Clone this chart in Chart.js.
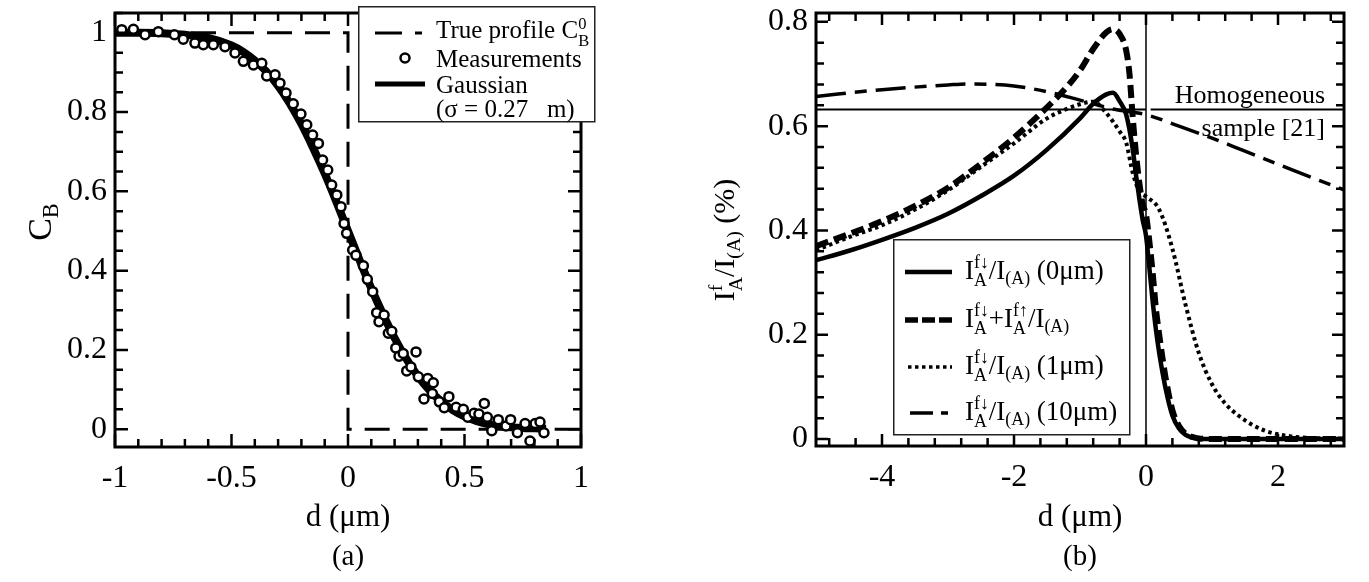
<!DOCTYPE html>
<html>
<head>
<meta charset="utf-8">
<script src="https://cdn.jsdelivr.net/npm/chart.js@4.4.0/dist/chart.umd.min.js"></script>
<style>
  body { margin: 0; background: #fff; width: 1369px; height: 582px; position: relative; overflow: hidden;
         font-family: 'Liberation Serif', 'Times New Roman', serif; color: #000; }
  canvas { position: absolute; top: 0; }
  #c1 { left: 0; }
  #c2 { left: 660px; }
  #ov { position: absolute; left: 0; top: 0; pointer-events: none; }
  .txt { position: absolute; white-space: nowrap; line-height: 1; transform: translateY(-50%); }
  .ctr { transform: translate(-50%, -50%); }
  .rot { transform: translate(-50%, -50%) rotate(-90deg); }
  sub { font-size: 0.66em; vertical-align: -0.3em; line-height: 0; }
  .st { display: inline-block; font-size: 0.66em; line-height: 1.0; vertical-align: -0.4em; text-align: left; }
  .st span { display: block; }
</style>
</head>
<body>
<canvas id="c1" width="660" height="582"></canvas>
<canvas id="c2" width="709" height="582"></canvas>

<svg id="ov" width="1369" height="582">
  <!-- legend (a) -->
  <rect x="358.75" y="6.75" width="236" height="115" fill="#fff" stroke="#222" stroke-width="1.5"/>
  <line x1="375" x2="402" y1="33" y2="33" stroke="#000" stroke-width="3"/>
  <line x1="415" x2="422" y1="33" y2="33" stroke="#000" stroke-width="3"/>
  <circle cx="405" cy="58" r="4.5" fill="#fff" stroke="#000" stroke-width="2.5"/>
  <line x1="375" x2="425" y1="84" y2="84" stroke="#000" stroke-width="5"/>
  <!-- legend (b) -->
  <rect x="893.75" y="239.75" width="236" height="195" fill="#fff" stroke="#222" stroke-width="1.5"/>
  <line x1="905" x2="952" y1="272" y2="272" stroke="#000" stroke-width="4.5"/>
  <line x1="905" x2="952" y1="320" y2="320" stroke="#000" stroke-width="5.5" stroke-dasharray="13 4"/>
  <line x1="908" x2="952" y1="367" y2="367" stroke="#000" stroke-width="3.5" stroke-dasharray="3.5 3.5"/>
  <line x1="910" x2="948" y1="413" y2="413" stroke="#000" stroke-width="3.5" stroke-dasharray="23 8 7 100"/>
</svg>

<div class="txt" style="left:436px;top:32px;font-size:25px">True profile C<span class="st"><span>0</span><span>B</span></span></div>
<div class="txt" style="left:436px;top:58px;font-size:25px">Measurements</div>
<div class="txt" style="left:436px;top:84px;font-size:25px">Gaussian</div>
<div class="txt" style="left:436px;top:108px;font-size:25px">(σ = 0.27 &nbsp;&nbsp;m)</div>

<div class="txt" style="left:965px;top:272px;font-size:27px">I<span class="st"><span>f↓</span><span>A</span></span>/I<sub>(A)</sub> (0μm)</div>
<div class="txt" style="left:965px;top:320px;font-size:27px">I<span class="st"><span>f↓</span><span>A</span></span>+I<span class="st"><span>f↑</span><span>A</span></span>/I<sub>(A)</sub></div>
<div class="txt" style="left:965px;top:367px;font-size:27px">I<span class="st"><span>f↓</span><span>A</span></span>/I<sub>(A)</sub> (1μm)</div>
<div class="txt" style="left:965px;top:413px;font-size:27px">I<span class="st"><span>f↓</span><span>A</span></span>/I<sub>(A)</sub> (10μm)</div>

<div class="txt" style="right:44px;top:95px;font-size:26px">Homogeneous</div>
<div class="txt" style="right:44px;top:128px;font-size:26px">sample [21]</div>

<div class="txt rot" style="left:40px;top:222px;font-size:34px">C<sub>B</sub></div>
<div class="txt rot" style="left:726px;top:240px;font-size:30px">I<span class="st"><span>f</span><span>A</span></span>/I<sub>(A)</sub> (%)</div>

<div class="txt ctr" style="left:348px;top:555px;font-size:29px">(a)</div>
<div class="txt ctr" style="left:1080px;top:555px;font-size:29px">(b)</div>

<script>
// ---- panel (a) data ----
const gaussX = [-1, -0.9, -0.8, -0.7, -0.6, -0.5, -0.45, -0.4, -0.35, -0.3, -0.25, -0.2, -0.15, -0.1, -0.05,
                0, 0.05, 0.1, 0.15, 0.2, 0.25, 0.3, 0.35, 0.4, 0.45, 0.5, 0.55, 0.6, 0.65, 0.7, 0.75, 0.8, 0.85];
const gaussY = [1.0, 1.0, 0.999, 0.995, 0.987, 0.968, 0.952, 0.93, 0.902, 0.866, 0.822, 0.77, 0.71, 0.645, 0.574,
                0.5, 0.426, 0.355, 0.29, 0.23, 0.178, 0.134, 0.098, 0.07, 0.048, 0.032, 0.021, 0.013, 0.008, 0.005, 0.003, 0.002, 0.001];

const measX = [-0.971, -0.921, -0.871, -0.814, -0.745, -0.707, -0.657, -0.621, -0.578, -0.528, -0.485, -0.449,
               -0.406, -0.370, -0.349, -0.313, -0.292, -0.266, -0.235, -0.202, -0.177, -0.152, -0.127, -0.109,
               -0.087, -0.070, -0.048, -0.030, -0.017, -0.006, 0.020, 0.034, 0.066, 0.083, 0.106, 0.123, 0.133,
               0.155, 0.173, 0.188, 0.205, 0.219, 0.237, 0.292, 0.252, 0.270, 0.302, 0.342, 0.366, 0.326, 0.362,
               0.392, 0.413, 0.433, 0.464, 0.495, 0.514, 0.541, 0.562, 0.585, 0.598, 0.617, 0.645, 0.678, 0.698,
               0.727, 0.760, 0.781, 0.803, 0.824, 0.841];
const measY = [1.008, 1.009, 0.995, 1.003, 0.995, 0.984, 0.974, 0.970, 0.970, 0.965, 0.949, 0.928,
               0.919, 0.923, 0.891, 0.894, 0.873, 0.848, 0.821, 0.795, 0.768, 0.742, 0.721, 0.679,
               0.654, 0.616, 0.591, 0.561, 0.519, 0.494, 0.452, 0.439, 0.412, 0.378, 0.347, 0.294, 0.271,
               0.288, 0.242, 0.247, 0.205, 0.184, 0.191, 0.195, 0.147, 0.157, 0.132, 0.128, 0.117, 0.076, 0.090,
               0.069, 0.054, 0.082, 0.055, 0.050, 0.030, 0.040, 0.038, 0.065, 0.030, -0.004, 0.024, 0.008, 0.024,
               -0.009, 0.014, -0.030, 0.014, 0.018, -0.009];

const trueX = [-1, 0, 0, 1];
const trueY = [1, 1, 0, 0];

const ticksAX = [-1, -0.5, 0, 0.5, 1];
const ticksAY = [0, 0.2, 0.4, 0.6, 0.8, 1];

// ---- panel (b) data ----
const solidX = [-5, -4.5, -4, -3.5, -3, -2.5, -2, -1.5, -1, -0.8, -0.6, -0.5, -0.4, -0.3, -0.2, -0.15, -0.1, -0.05,
                0, 0.05, 0.1, 0.15, 0.2, 0.3, 0.4, 0.5, 0.6, 0.7, 0.8, 1, 1.5, 2, 2.5, 3];
const solidY = [0.343, 0.361, 0.382, 0.405, 0.432, 0.466, 0.505, 0.555, 0.615, 0.643, 0.661, 0.664, 0.648, 0.622, 0.555, 0.505, 0.46, 0.42,
                0.39, 0.33, 0.265, 0.21, 0.165, 0.095, 0.045, 0.02, 0.008, 0.003, 0.001, 0, 0, 0, 0, 0];

const sumX = [-5, -4.5, -4, -3.5, -3, -2.5, -2, -1.5, -1.2, -1, -0.8, -0.6, -0.5, -0.4, -0.3, -0.25, -0.2, -0.15, -0.1, -0.05,
              0, 0.05, 0.1, 0.15, 0.2, 0.25, 0.3, 0.4, 0.5, 0.6, 0.7, 0.8, 1, 1.5, 2, 2.5, 3];
const sumY = [0.370, 0.393, 0.418, 0.447, 0.482, 0.528, 0.578, 0.636, 0.675, 0.707, 0.748, 0.780, 0.786, 0.777, 0.745, 0.70, 0.615, 0.545, 0.49, 0.45,
              0.43, 0.38, 0.32, 0.25, 0.2, 0.155, 0.115, 0.055, 0.025, 0.01, 0.004, 0.001, 0, 0, 0, 0, 0];

const dotX = [-5, -4.5, -4, -3.5, -3, -2.5, -2, -1.5, -1.2, -1, -0.8, -0.6, -0.4, -0.3, -0.2, -0.1, 0, 0.2, 0.4, 0.6, 0.8,
              1, 1.2, 1.4, 1.6, 1.8, 2, 2.2, 2.5, 3];
const dotY = [0.362, 0.387, 0.41, 0.44, 0.477, 0.522, 0.567, 0.615, 0.633, 0.642, 0.647, 0.625, 0.59, 0.568, 0.51, 0.475, 0.465, 0.44, 0.365, 0.257, 0.165,
              0.105, 0.068, 0.045, 0.028, 0.016, 0.009, 0.005, 0.002, 0.001];

const tenX = [-5, -4, -3, -2.7, -2, -1.5, -1, -0.5, 0, 0.5, 1, 1.5, 2, 2.5, 3];
const tenY = [0.657, 0.670, 0.679, 0.681, 0.677, 0.666, 0.650, 0.633, 0.622, 0.600, 0.577, 0.552, 0.527, 0.502, 0.478];

const homX = [-5, 0, 0.03, 0.07, 3];
const homY = [0.632, 0.632, null, 0.632, 0.632];

const vertX = [0, 0];
const vertY = [-0.02, 0.82];

const ticksBX = [-4, -2, 0, 2];
const ticksBY = [0, 0.2, 0.4, 0.6, 0.8];

const pts = (xs, ys) => xs.map((x, i) => ({ x, y: ys[i] }));

Chart.defaults.font.family = "'Liberation Serif', 'Times New Roman', serif";
Chart.defaults.color = '#000';

// frame + inward ticks on all four sides
const frameTicks = {
  id: 'frameTicks',
  afterDatasetsDraw(chart, args, o) {
    const { ctx, chartArea: a } = chart;
    const sx = chart.scales.x, sy = chart.scales.y;
    const isMajor = (v, list) => list.some(m => Math.abs(m - v) < 1e-6);
    const steps = (min, max, anchor, step) => {
      const out = [];
      for (let k = Math.ceil((min - anchor) / step - 1e-6); anchor + k * step <= max + 1e-6; k++) out.push(anchor + k * step);
      return out;
    };
    ctx.save();
    ctx.strokeStyle = '#000';
    ctx.lineWidth = 2.5;
    ctx.beginPath();
    for (const v of steps(sx.min, sx.max, o.xMajor[0], o.xStep)) {
      const p = sx.getPixelForValue(v), L = isMajor(v, o.xMajor) ? o.major : o.minor;
      ctx.moveTo(p, a.bottom); ctx.lineTo(p, a.bottom - L);
      ctx.moveTo(p, a.top); ctx.lineTo(p, a.top + L);
    }
    for (const v of steps(sy.min, sy.max, o.yMajor[0], o.yStep)) {
      const p = sy.getPixelForValue(v), L = isMajor(v, o.yMajor) ? o.major : o.minor;
      ctx.moveTo(a.left, p); ctx.lineTo(a.left + L, p);
      ctx.moveTo(a.right, p); ctx.lineTo(a.right - L, p);
    }
    ctx.stroke();
    ctx.lineWidth = 3;
    ctx.strokeRect(a.left, a.top, a.right - a.left, a.bottom - a.top);
    ctx.restore();
  }
};

function axis(min, max, ticks, fitKey, fitVal, pad, title) {
  const cfg = {
    type: 'linear', min, max,
    afterBuildTicks: s => { s.ticks = ticks.map(v => ({ value: v })); },
    afterFit: s => {
      s[fitKey] = fitVal;
      s.paddingTop = 0; s.paddingBottom = 0; s.paddingLeft = 0; s.paddingRight = 0;
    },
    grid: { display: false, drawTicks: false },
    border: { display: false },
    ticks: { font: { size: 32 }, color: '#000', padding: pad, maxRotation: 0, autoSkip: false, callback: v => String(v) }
  };
  if (title) cfg.title = { display: true, text: title, font: { size: 31 }, color: '#000', padding: { top: 0, bottom: 46 } };
  return cfg;
}

new Chart(document.getElementById('c1'), {
  type: 'scatter',
  data: {
    datasets: [
      { label: 'Measurements', data: pts(measX, measY), showLine: false, pointRadius: 4.5, pointBorderWidth: 2.5,
        pointBackgroundColor: '#fff', pointBorderColor: '#000' },
      { label: 'Gaussian', data: pts(gaussX, gaussY), showLine: true, borderColor: '#000', borderWidth: 8,
        pointRadius: 0, cubicInterpolationMode: 'monotone' },
      { label: 'True profile', data: pts(trueX, trueY), showLine: true, borderColor: '#000', borderWidth: 3,
        borderDash: [25, 13], pointRadius: 0 }
    ]
  },
  options: {
    responsive: false, animation: false, events: [],
    layout: { padding: { left: 0, top: 13, right: 79, bottom: 0 } },
    plugins: {
      legend: { display: false }, tooltip: { enabled: false },
      frameTicks: { xMajor: ticksAX, xStep: 0.1, yMajor: ticksAY, yStep: 0.05, major: 13, minor: 8 }
    },
    scales: {
      x: axis(-1, 1, ticksAX, 'height', 135, 12, 'd (μm)'),
      y: axis(-0.045, 1.05, ticksAY, 'width', 115, 8)
    }
  },
  plugins: [frameTicks]
});

new Chart(document.getElementById('c2'), {
  type: 'scatter',
  data: {
    datasets: [
      { label: 'sum', data: pts(sumX, sumY), borderColor: '#000', borderWidth: 6, borderDash: [13, 6] },
      { label: '0um', data: pts(solidX, solidY), borderColor: '#000', borderWidth: 4.5 },
      { label: '1um', data: pts(dotX, dotY), borderColor: '#000', borderWidth: 4, borderDash: [3.5, 3.5] },
      { label: '10um', data: pts(tenX, tenY), borderColor: '#000', borderWidth: 3.5, borderDash: [30, 9, 12, 9] },
      { label: 'Homogeneous', data: pts(homX, homY), borderColor: '#000', borderWidth: 2, cubicInterpolationMode: 'default', tension: 0 },
      { label: 'zero', data: pts(vertX, vertY), borderColor: '#000', borderWidth: 1.5, cubicInterpolationMode: 'default', tension: 0 }
    ].map(d => Object.assign({ showLine: true, pointRadius: 0, cubicInterpolationMode: 'monotone', spanGaps: false }, d))
  },
  options: {
    responsive: false, animation: false, events: [],
    layout: { padding: { left: 0, top: 13, right: 25, bottom: 0 } },
    plugins: {
      legend: { display: false }, tooltip: { enabled: false },
      frameTicks: { xMajor: ticksBX, xStep: 0.4, yMajor: ticksBY, yStep: 0.04, major: 12, minor: 8 }
    },
    scales: {
      x: axis(-5, 3, ticksBX, 'height', 136, 12, 'd (μm)'),
      y: axis(-0.0134, 0.817, ticksBY, 'width', 156, 8)
    }
  },
  plugins: [frameTicks]
});
</script>
</body>
</html>
